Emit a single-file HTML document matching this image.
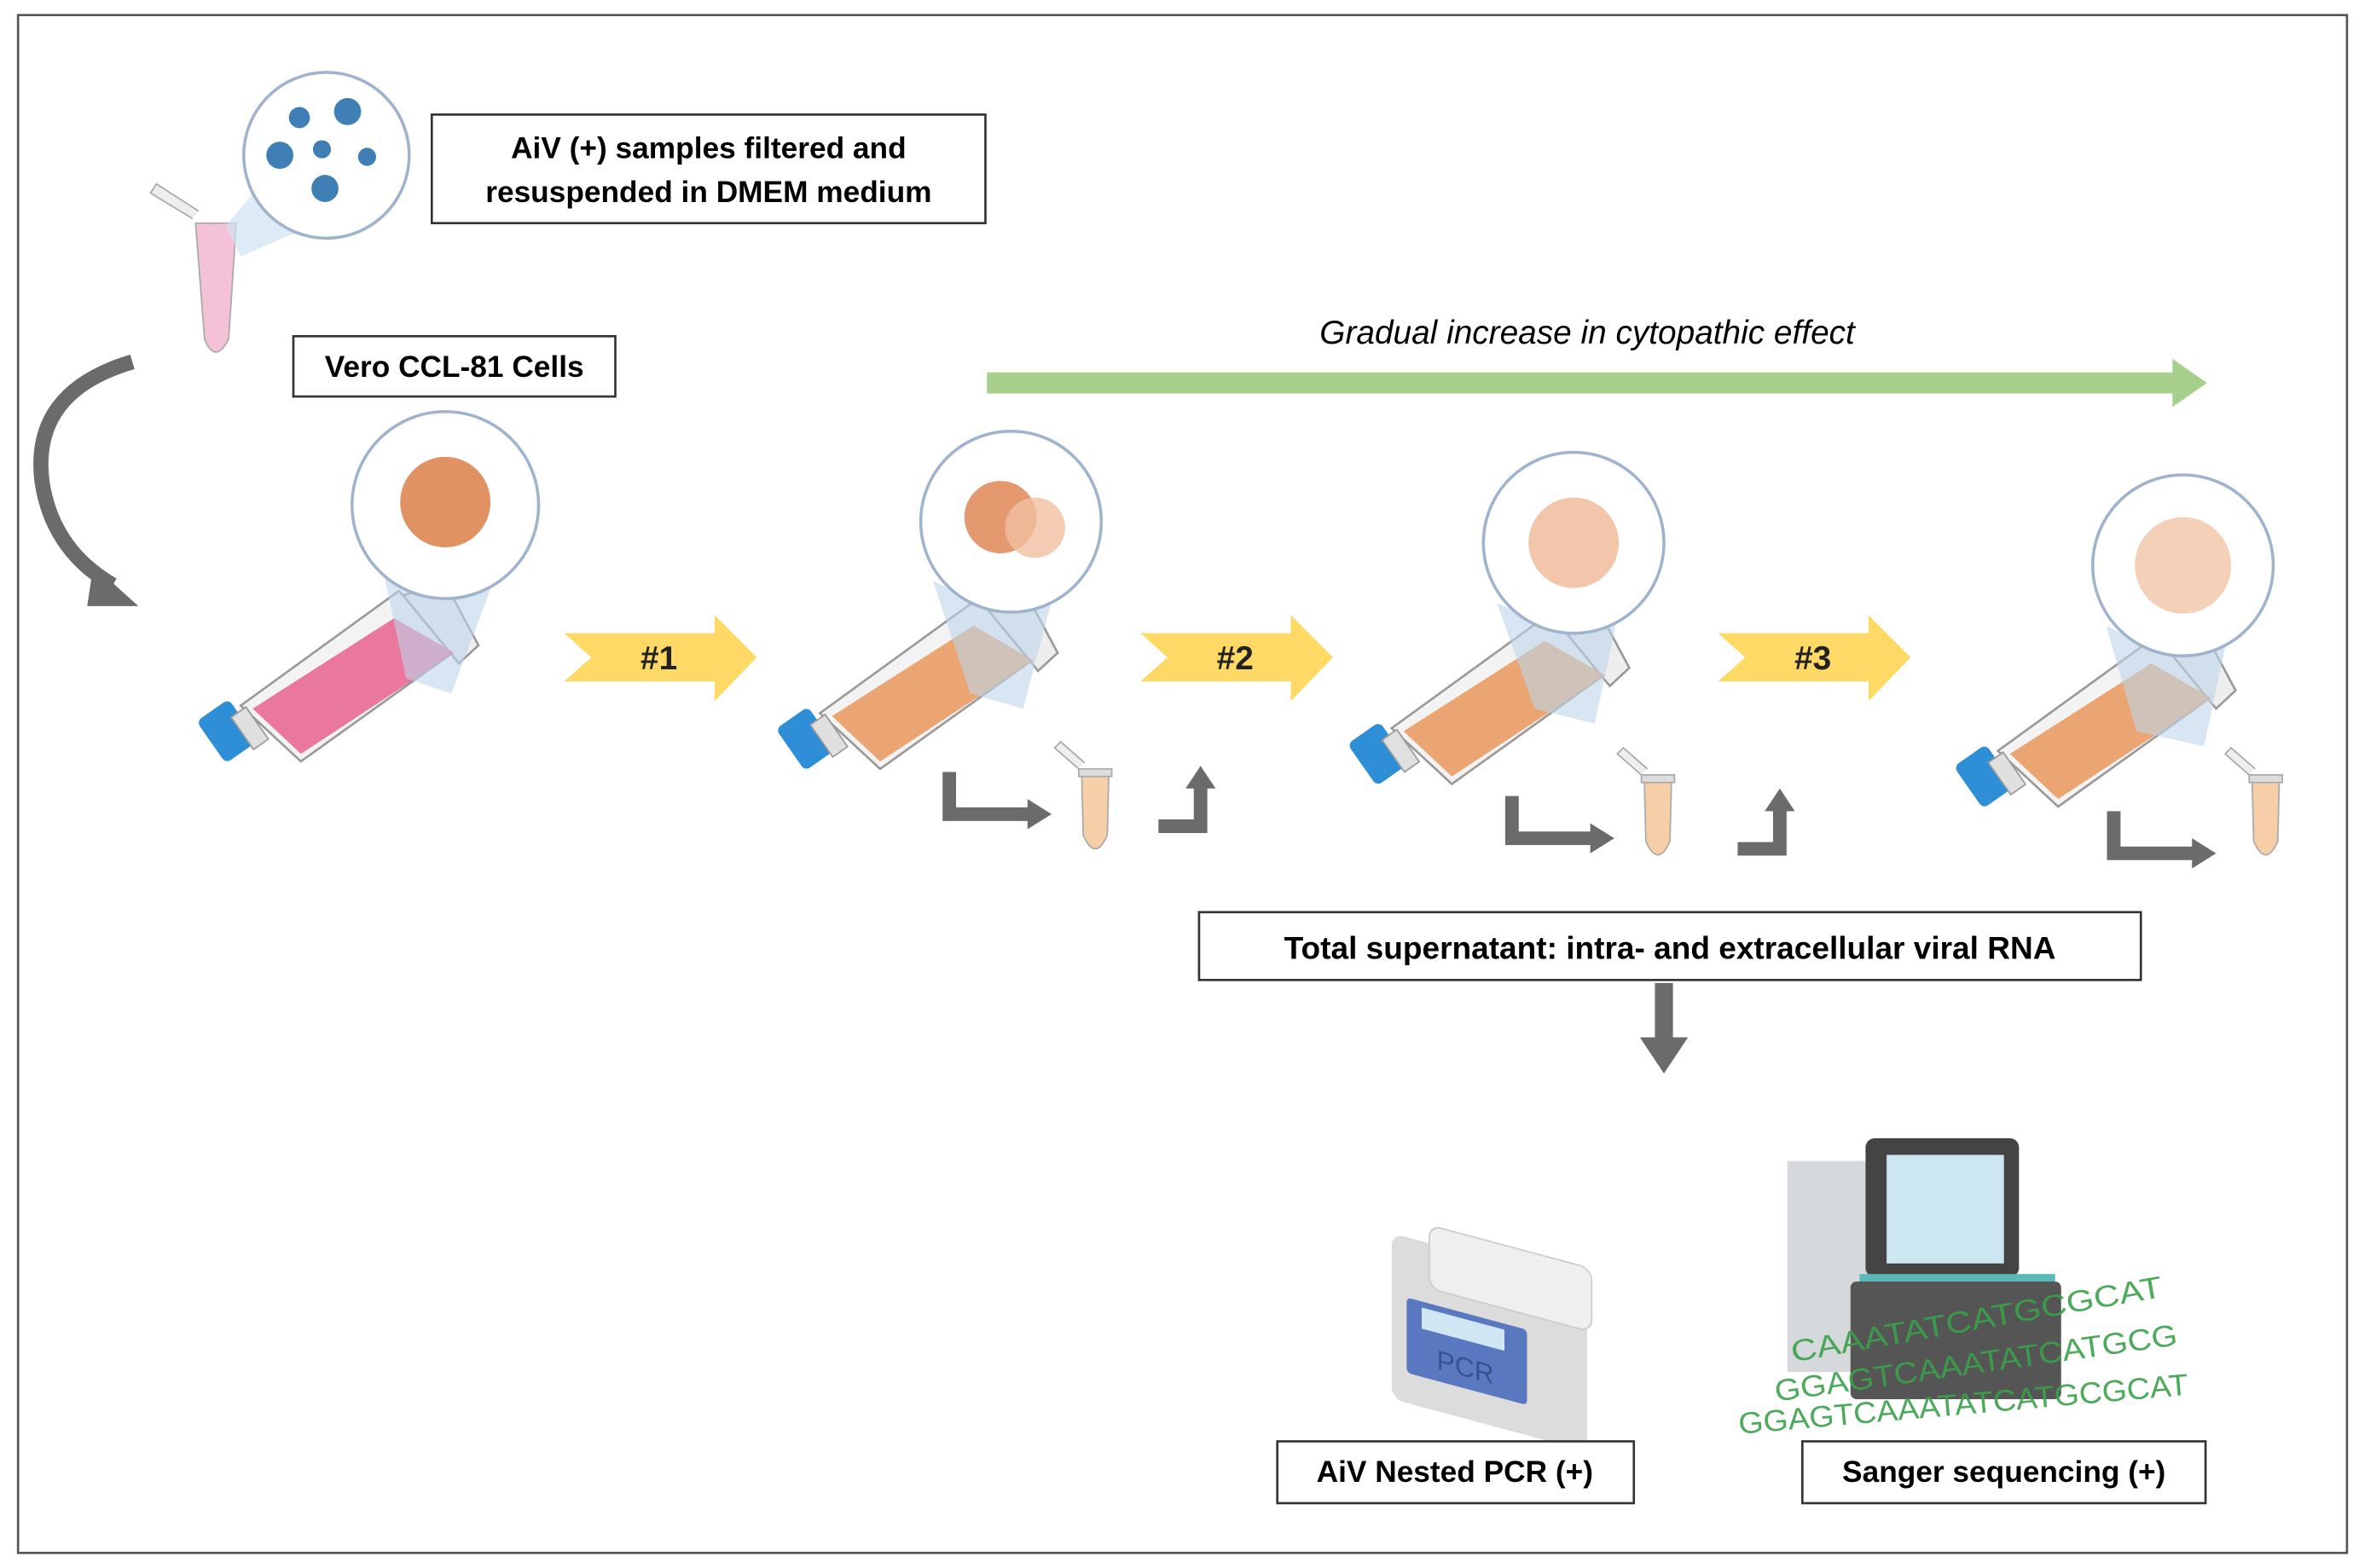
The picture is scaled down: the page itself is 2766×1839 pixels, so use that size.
<!DOCTYPE html>
<html><head><meta charset="utf-8"><style>html,body{margin:0;padding:0;background:#fff}svg{display:block}</style></head>
<body>
<svg width="2766" height="1839" viewBox="0 0 1568 1040" preserveAspectRatio="none" xmlns="http://www.w3.org/2000/svg" font-family="Liberation Sans, sans-serif">
<defs>
<g id="flask">
  <polygon points="160,468 265,392 305,430 200,505" fill="#f3f3f3" stroke="#9a9a9a" stroke-width="1.5"/>
  <polygon points="268,395 295,385 318,428 305,440" fill="#eeeeee" stroke="#9a9a9a" stroke-width="1.5"/>
  <rect x="138" y="468" width="26" height="34" rx="4" fill="#2f8fd6" transform="rotate(-35 151 485)"/>
  <rect x="160" y="470" width="12" height="26" fill="#e0e0e0" stroke="#9a9a9a" transform="rotate(-35 166 483)"/>
</g>
<g id="tube">
  <path d="M0,0 L18,0 L17,40 Q9,58 1,40 Z" fill="#f6cfa8" stroke="#aaa"/>
  <rect x="-2" y="-4" width="22" height="5" fill="#ddd" stroke="#aaa"/>
  <path d="M-2,-4 L-18,-18 L-14,-22 L2,-8" fill="#eee" stroke="#aaa"/>
</g>
<g id="elbow">
  <path d="M0,0 L0,28 L55,28" fill="none" stroke="#6b6b6b" stroke-width="9"/>
  <polygon points="52,18 68,28 52,38" fill="#6b6b6b"/>
</g>
<g id="elbowUp">
  <path d="M0,28 L28,28 L28,0" fill="none" stroke="#6b6b6b" stroke-width="9"/>
  <polygon points="18,3 28,-12 38,3" fill="#6b6b6b"/>
</g>
</defs>

<rect x="12" y="10" width="1548" height="1020" fill="#fff" stroke="#555" stroke-width="1.5"/>

<path d="M130,148 L157,148 L152,225 Q143,242 136,225 Z" fill="#f3c2d6" stroke="#aaa"/>
<path d="M128,145 L100,128 L104,122 L132,140" fill="#eee" stroke="#aaa"/>
<polygon points="150,150 175,120 230,140 160,170" fill="#cfe2f2" opacity="0.7"/>
<circle cx="217" cy="103" r="55" fill="#fff" stroke="#9fb3cc" stroke-width="2"/>
<g fill="#3f7fb5">
<circle cx="199" cy="78" r="7"/><circle cx="231" cy="74" r="9"/><circle cx="186" cy="103" r="9"/><circle cx="214" cy="99" r="6"/><circle cx="244" cy="104" r="6"/><circle cx="216" cy="125" r="9"/>
</g>
<rect x="287" y="76" width="368" height="72" fill="#fff" stroke="#333" stroke-width="1.5"/>
<text x="471" y="105" font-size="20" font-weight="bold" text-anchor="middle">AiV (+) samples filtered and</text>
<text x="471" y="134" font-size="20" font-weight="bold" text-anchor="middle">resuspended in DMEM medium</text>

<rect x="195" y="223" width="214" height="40" fill="#fff" stroke="#333" stroke-width="1.5"/>
<text x="302" y="250" font-size="20" font-weight="bold" text-anchor="middle">Vero CCL-81 Cells</text>

<path d="M88,240 Q20,260 28,320 Q35,365 75,388" fill="none" stroke="#6b6b6b" stroke-width="10"/>
<polygon points="62,375 92,402 58,402" fill="#6b6b6b"/>

<text x="1055" y="228" font-size="22" font-style="italic" text-anchor="middle">Gradual increase in cytopathic effect</text>
<rect x="656" y="247" width="790" height="14" fill="#a8d08d"/>
<polygon points="1444,238 1467,254 1444,270" fill="#a8d08d"/>

<g><use href="#flask"/><polygon points="168,470 262,410 302,433 200,500" fill="#e8608e" opacity="0.85"/></g>
<g transform="translate(385,5)"><use href="#flask"/><polygon points="168,470 262,410 302,433 200,500" fill="#e8975a" opacity="0.85"/></g>
<g transform="translate(765,15)"><use href="#flask"/><polygon points="168,470 262,410 302,433 200,500" fill="#e8975a" opacity="0.85"/></g>
<g transform="translate(1168,30)"><use href="#flask"/><polygon points="168,470 262,410 302,433 200,500" fill="#e8975a" opacity="0.85"/></g>

<polygon points="255,380 290,395 330,380 300,460 270,450" fill="#bcd6ea" opacity="0.6"/>
<circle cx="296" cy="335" r="62" fill="#fff" stroke="#9fb3cc" stroke-width="2"/>
<circle cx="296" cy="333" r="30" fill="#d9773c" opacity="0.8"/>
<polygon points="620,385 650,400 700,395 680,470 645,460" fill="#bcd6ea" opacity="0.6"/>
<circle cx="672" cy="346" r="60" fill="#fff" stroke="#9fb3cc" stroke-width="2"/>
<circle cx="665" cy="343" r="24" fill="#d9773c" opacity="0.75"/><circle cx="688" cy="350" r="20" fill="#f0bfa0" opacity="0.8"/>
<polygon points="995,400 1030,415 1075,410 1060,480 1020,470" fill="#bcd6ea" opacity="0.6"/>
<circle cx="1046" cy="360" r="60" fill="#fff" stroke="#9fb3cc" stroke-width="2"/>
<circle cx="1046" cy="360" r="30" fill="#f0b896" opacity="0.8"/>
<polygon points="1400,415 1430,430 1480,425 1465,495 1420,485" fill="#bcd6ea" opacity="0.6"/>
<circle cx="1451" cy="375" r="60" fill="#fff" stroke="#9fb3cc" stroke-width="2"/>
<circle cx="1451" cy="375" r="32" fill="#f3c4a6" opacity="0.8"/>

<g fill="#ffd966">
<polygon points="375,420 475,420 475,408 503,436 475,465 475,452 375,452 393,436"/>
<polygon points="758,420 858,420 858,408 886,436 858,465 858,452 758,452 776,436"/>
<polygon points="1142,420 1242,420 1242,408 1270,436 1242,465 1242,452 1142,452 1160,436"/>
</g>
<g font-size="22" font-weight="bold" text-anchor="middle" fill="#222">
<text x="438" y="444">#1</text><text x="821" y="444">#2</text><text x="1205" y="444">#3</text>
</g>

<use href="#elbow" x="631" y="512"/>
<use href="#tube" x="719" y="514"/>
<use href="#elbowUp" x="770" y="520"/>
<use href="#elbow" x="1005" y="528"/>
<use href="#tube" x="1093" y="518"/>
<use href="#elbowUp" x="1155" y="535"/>
<use href="#elbow" x="1405" y="538"/>
<use href="#tube" x="1497" y="518"/>

<rect x="797" y="605" width="626" height="45" fill="#fff" stroke="#333" stroke-width="1.5"/>
<text x="1110" y="636" font-size="21" font-weight="bold" text-anchor="middle">Total supernatant: intra- and extracellular viral RNA</text>

<rect x="1100" y="652" width="12" height="38" fill="#6b6b6b"/>
<polygon points="1090,688 1122,688 1106,712" fill="#6b6b6b"/>

<g transform="skewY(15) translate(0,-250)">
<rect x="925" y="820" width="130" height="110" rx="8" fill="#dcdcdc"/>
<rect x="950" y="808" width="108" height="42" rx="8" fill="#efefef" stroke="#ccc"/>
<rect x="935" y="860" width="80" height="50" rx="3" fill="#5a78c0"/>
<rect x="945" y="864" width="55" height="14" fill="#cfe6f3"/>
<text x="955" y="902" font-size="18" fill="#3a5190">PCR</text>
</g>

<rect x="1188" y="770" width="60" height="140" fill="#d6d9dc"/>
<rect x="1240" y="755" width="102" height="92" rx="6" fill="#444"/>
<rect x="1254" y="766" width="78" height="72" fill="#cde7f0"/>
<rect x="1236" y="845" width="130" height="6" fill="#5ab8b8"/>
<rect x="1230" y="850" width="140" height="78" rx="4" fill="#555"/>
<g fill="#3aa04a" font-size="20">
<text x="1188" y="860" textLength="250" lengthAdjust="spacingAndGlyphs" transform="rotate(-10 1438 860)" opacity="0.9">CAAATATCATGCGCAT</text>
<text x="1178" y="892" textLength="270" lengthAdjust="spacingAndGlyphs" transform="rotate(-8 1448 892)" opacity="0.9">GGAGTCAAATATCATGCG</text>
<text x="1155" y="925" textLength="300" lengthAdjust="spacingAndGlyphs" transform="rotate(-5 1455 925)" opacity="0.9">GGAGTCAAATATCATGCGCAT</text>
</g>

<rect x="849" y="956" width="237" height="41" fill="#fff" stroke="#333" stroke-width="1.5"/>
<text x="967" y="983" font-size="20" font-weight="bold" text-anchor="middle">AiV Nested PCR (+)</text>
<rect x="1198" y="956" width="268" height="41" fill="#fff" stroke="#333" stroke-width="1.5"/>
<text x="1332" y="983" font-size="20" font-weight="bold" text-anchor="middle">Sanger sequencing (+)</text>
</svg>
</body></html>
